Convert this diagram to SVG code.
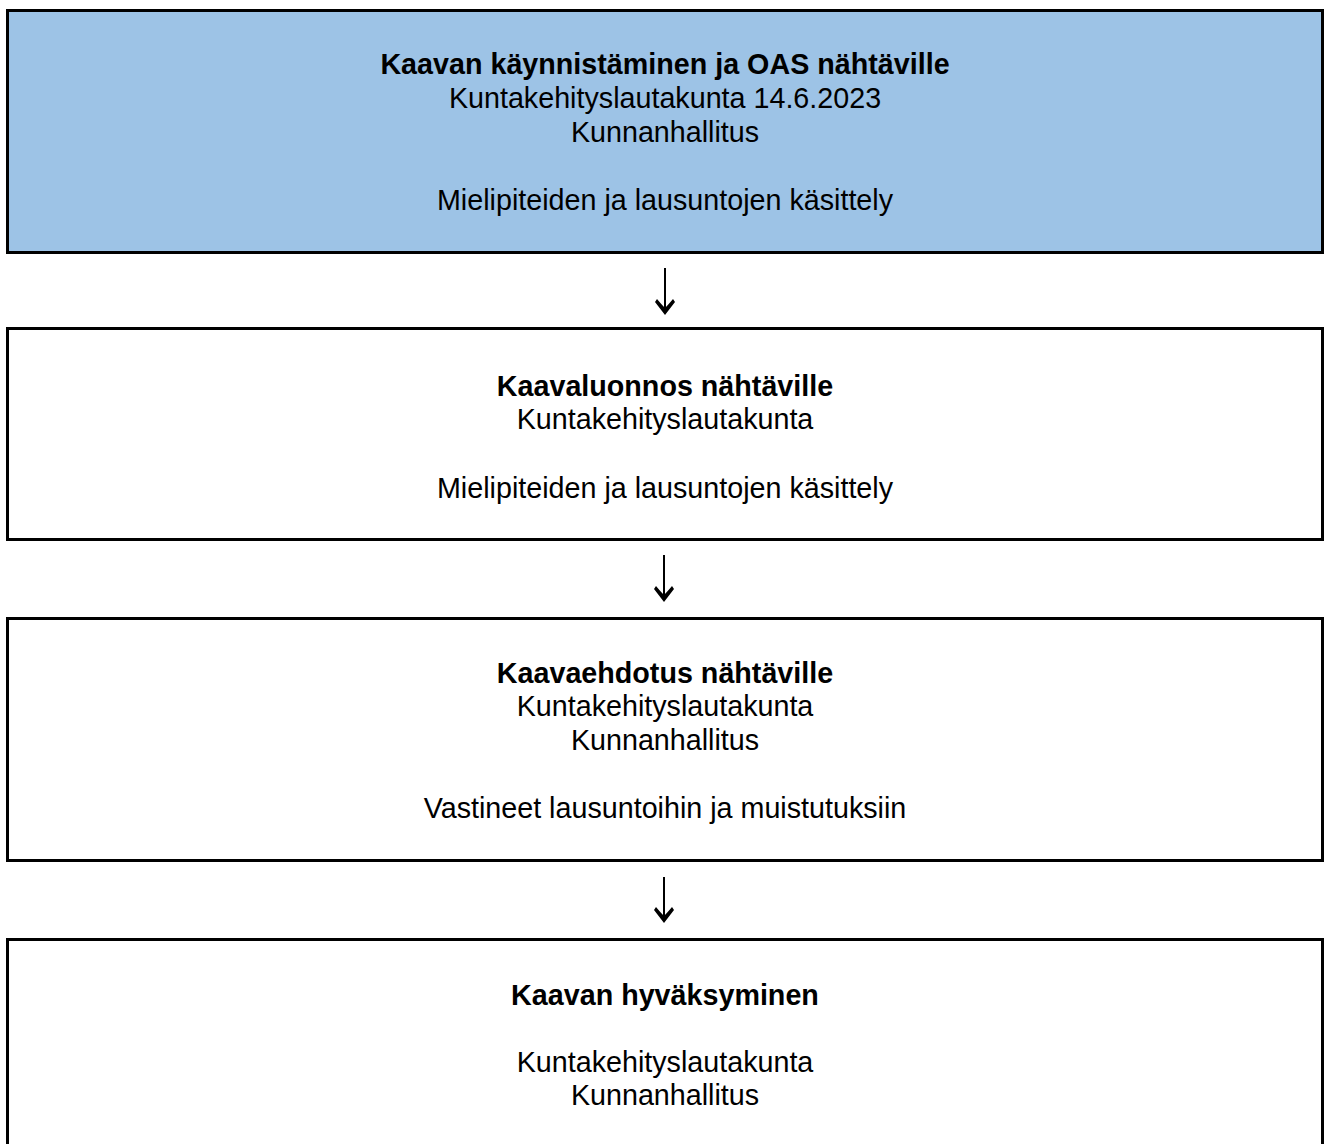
<svg xmlns="http://www.w3.org/2000/svg" width="1324" height="1144" viewBox="0 0 1324 1144">
  <style>
    .box { fill: #ffffff; stroke: #000000; stroke-width: 3; }
    .blue { fill: #9DC3E6; }
    text { font-family: "Liberation Sans", Arial, sans-serif; font-size: 28.7px; fill: #000000; text-anchor: middle; }
    .b { font-weight: bold; }
    .conn { stroke: #000000; stroke-width: 2; fill: none; marker-end: url(#ah); }
  </style>
  <defs>
    <marker id="ah" markerUnits="userSpaceOnUse" orient="auto" refX="0" refY="0" markerWidth="30" markerHeight="30" style="overflow:visible">
      <path d="M2,0 L-11,-10 L-14,-8 Q-8,-3 -5,0 Q-8,3 -14,8 L-11,10 Z" fill="#000000"/>
    </marker>
  </defs>
  <rect width="1324" height="1144" fill="#ffffff"/>

  <g id="node1">
    <rect class="box blue" x="7.5" y="10.5" width="1315" height="242"/>
    <text class="b" x="665" y="74">Kaavan käynnistäminen ja OAS nähtäville</text>
    <text x="665" y="108">Kuntakehityslautakunta 14.6.2023</text>
    <text x="665" y="142">Kunnanhallitus</text>
    <text x="665" y="210">Mielipiteiden ja lausuntojen käsittely</text>
  </g>

  <g id="node2">
    <rect class="box" x="7.5" y="328.5" width="1315" height="211"/>
    <text class="b" x="665" y="396">Kaavaluonnos nähtäville</text>
    <text x="665" y="429">Kuntakehityslautakunta</text>
    <text x="665" y="498">Mielipiteiden ja lausuntojen käsittely</text>
  </g>

  <g id="node3">
    <rect class="box" x="7.5" y="618.5" width="1315" height="242"/>
    <text class="b" x="665" y="683">Kaavaehdotus nähtäville</text>
    <text x="665" y="716">Kuntakehityslautakunta</text>
    <text x="665" y="750">Kunnanhallitus</text>
    <text x="665" y="818">Vastineet lausuntoihin ja muistutuksiin</text>
  </g>

  <g id="node4">
    <rect class="box" x="7.5" y="939.5" width="1315" height="240"/>
    <text class="b" x="665" y="1005">Kaavan hyväksyminen</text>
    <text x="665" y="1072">Kuntakehityslautakunta</text>
    <text x="665" y="1105">Kunnanhallitus</text>
  </g>

  <g id="connectors">
    <line class="conn" x1="665" y1="268" x2="665" y2="313"/>
    <line class="conn" x1="664" y1="555" x2="664" y2="600"/>
    <line class="conn" x1="664" y1="877" x2="664" y2="921"/>
  </g>
</svg>
